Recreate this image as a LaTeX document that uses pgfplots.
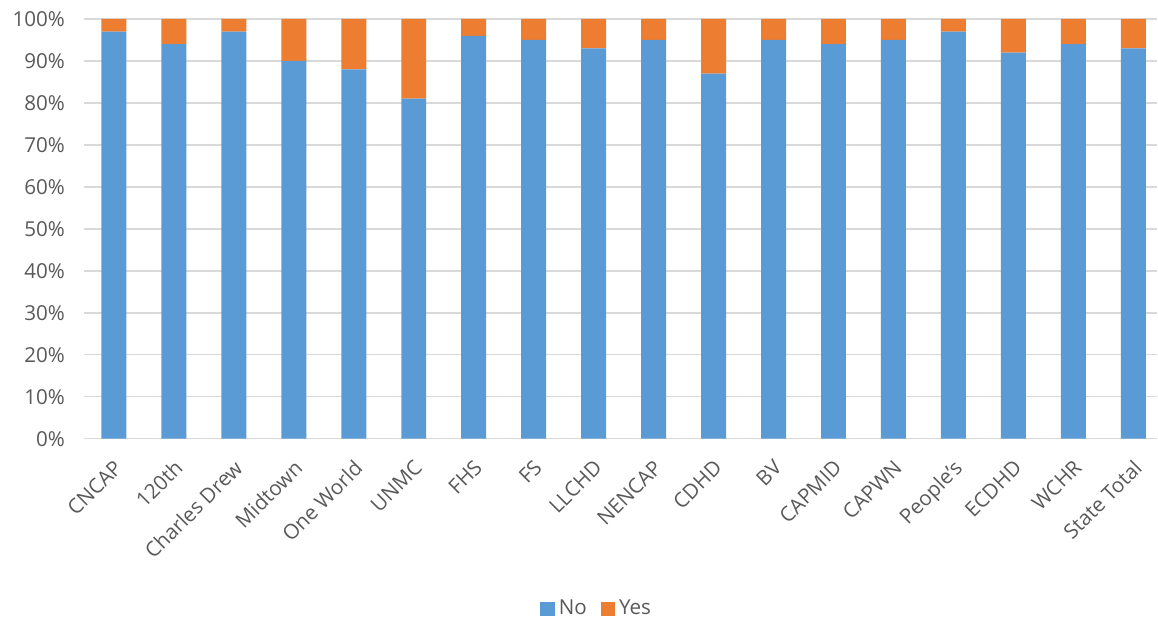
\documentclass[border=0pt]{standalone}
\usepackage{pgfplots}
\pgfplotsset{compat=1.18}
\usepackage{pgfplotstable}
\usepackage{fontspec}
\setmainfont{Open Sans}
\definecolor{nob}{HTML}{5B9BD5}
\definecolor{yeso}{HTML}{ED7D31}
\definecolor{gridc}{HTML}{D9D9D9}
\definecolor{txt}{HTML}{595959}

% No / Yes shares per site
\pgfplotstableread{
x no yes
0 97 3
1 94 6
2 97 3
3 90 10
4 88 12
5 81 19
6 96 4
7 95 5
8 93 7
9 95 5
10 87 13
11 95 5
12 94 6
13 95 5
14 97 3
15 92 8
16 94 6
17 93 7
}\sites

\begin{document}
\begin{tikzpicture}
\begin{axis}[
    name=main,
    scale only axis,
    width=537pt, height=210pt,
    ybar stacked,
    bar width=12.5pt,
    xmin=-0.5, xmax=17.4,
    ymin=0, ymax=100,
    ytick={0,10,...,100},
    yticklabel={\pgfmathprintnumber{\tick}\%},
    yticklabel style={xshift=-6pt},
    xtick={0,...,17},
    xticklabels={CNCAP,120th,Charles Drew,Midtown,One World,UNMC,FHS,FS,LLCHD,NENCAP,CDHD,BV,CAPMID,CAPWN,People's,ECDHD,WCHR,State Total},
    xticklabel style={xshift=-0.5pt, yshift=-5pt, rotate=45, anchor=north east},
    ticklabel style={font=\fontsize{10.3}{12}\selectfont, text=txt},
    /pgf/number format/assume math mode=true,
    major tick length=0pt,
    axis line style={draw=none},
    ymajorgrids,
    grid style={gridc, line width=0.7pt},
    legend style={at={(0.4786,-0.405)}, anchor=center, draw=none, fill=none,
        legend columns=-1, font=\fontsize{10.3}{12}\selectfont, text=txt,
        /tikz/every even column/.append style={column sep=5pt}},
    legend image code/.code={\path[#1,draw=none] (0pt,-3.6pt) rectangle (7.2pt,3.6pt);},
]
\addplot[fill=nob, draw=none] table[x=x, y=no] {\sites};
\addplot[fill=yeso, draw=none] table[x=x, y=yes] {\sites};
\legend{No, Yes}
\end{axis}
\path ([shift={(-42pt,-90pt)}]main.south west) rectangle ([shift={(0pt,9.5pt)}]main.north east);
\end{tikzpicture}
\end{document}
